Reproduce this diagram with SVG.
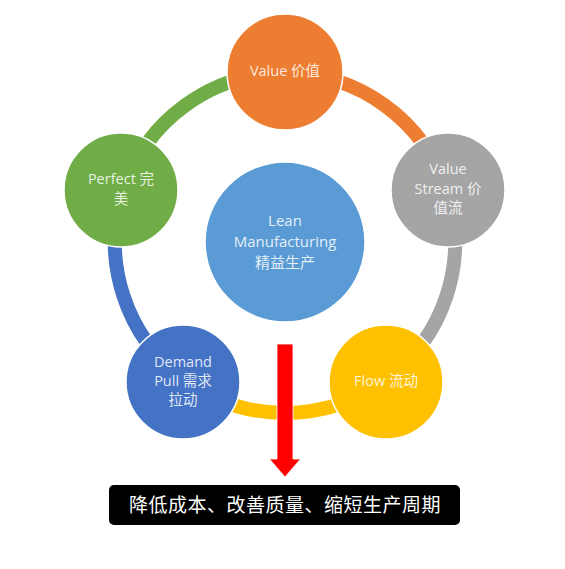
<svg xmlns="http://www.w3.org/2000/svg" width="565" height="569" viewBox="0 0 565 569">
<style>
.ring{fill:none;stroke-width:14}
.node{stroke:#fff;stroke-width:1.5}
.lbl{font-family:"Open Sans","Liberation Sans","Noto Sans CJK SC",sans-serif;font-size:14.5px;fill:#fff;fill-opacity:0.85;text-anchor:middle}
.big{font-size:15px}
.bar{font-family:"Noto Sans CJK SC",sans-serif;font-size:19px;letter-spacing:0.5px;fill:#fff;text-anchor:middle}
</style>
<rect width="565" height="569" fill="#fff"/>
<g id="connectors">
<path class="ring" stroke="#ED7D31" d="M285 73 A170 170 0 0 1 446.7 190.5"/>
<path class="ring" stroke="#A5A5A5" d="M446.7 190.5 A170 170 0 0 1 384.9 380.5"/>
<path class="ring" stroke="#FFC000" d="M384.9 380.5 A170 170 0 0 1 185.1 380.5"/>
<path class="ring" stroke="#4472C4" d="M185.1 380.5 A170 170 0 0 1 123.3 190.5"/>
<path class="ring" stroke="#70AD47" d="M123.3 190.5 A170 170 0 0 1 285 73"/>
</g>
<g id="center">
<circle class="node" cx="285" cy="242" r="80" fill="#5B9BD5"/>
<text class="lbl big" x="285" y="226">Lean</text>
<text class="lbl big" x="285" y="247">Manufacturing</text>
<text class="lbl big" x="285" y="268">精益生产</text>
</g>
<g id="value">
<circle class="node" cx="285" cy="72" r="58" fill="#ED7D31"/>
<text class="lbl" x="285" y="76">Value 价值</text>
</g>
<g id="value-stream">
<circle class="node" cx="448" cy="190" r="57" fill="#A5A5A5"/>
<text class="lbl" x="448" y="174">Value</text>
<text class="lbl" x="448" y="194">Stream 价</text>
<text class="lbl" x="448" y="213">值流</text>
</g>
<g id="flow">
<circle class="node" cx="386" cy="382" r="57" fill="#FFC000"/>
<text class="lbl" x="386" y="386">Flow 流动</text>
</g>
<g id="demand-pull">
<circle class="node" cx="183" cy="382" r="57" fill="#4472C4"/>
<text class="lbl" x="183" y="367">Demand</text>
<text class="lbl" x="183" y="386">Pull 需求</text>
<text class="lbl" x="183" y="405">拉动</text>
</g>
<g id="perfect">
<circle class="node" cx="121" cy="190" r="57" fill="#70AD47"/>
<text class="lbl" x="121" y="184">Perfect 完</text>
<text class="lbl" x="121" y="204">美</text>
</g>
<g id="arrow">
<path d="M277 344 H293 V459 H300.5 L285 477 L269.5 459 H277 Z" fill="#FF0000" stroke="#fff" stroke-width="0.8"/>
</g>
<g id="result">
<rect x="109" y="485" width="351" height="40" rx="5" fill="#000"/>
<text class="bar" x="285" y="512">降低成本、改善质量、缩短生产周期</text>
</g>
</svg>
